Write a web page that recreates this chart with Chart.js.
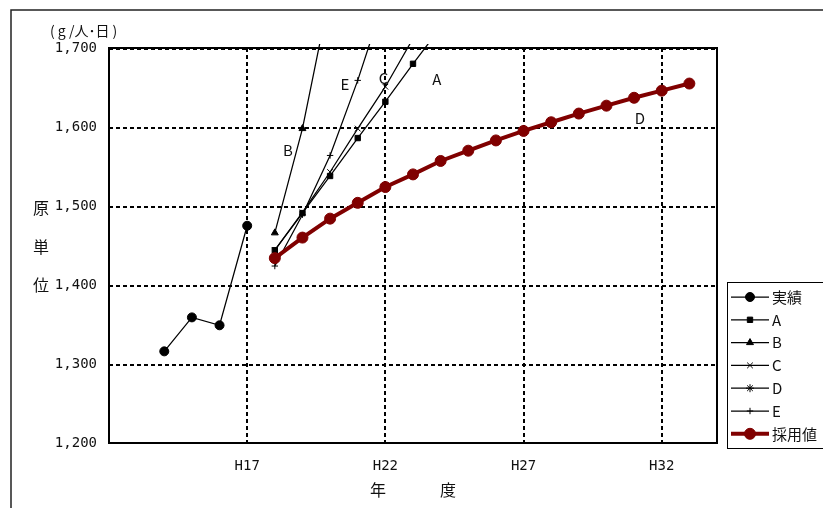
<!DOCTYPE html>
<html><head><meta charset="utf-8">
<script src="https://cdn.jsdelivr.net/npm/chart.js@4/dist/chart.umd.min.js"></script>
<style>
html,body{margin:0;padding:0;background:#fff;overflow:hidden;}
canvas{display:block;}
</style></head><body>
<canvas id="c" width="823" height="508"></canvas>
<script>
// ---------------- data ----------------
const categories = ['H12','H13','H14','H15','H16','H17','H18','H19','H20','H21','H22','H23',
  'H24','H25','H26','H27','H28','H29','H30','H31','H32','H33','H34'];
const xTickLabels = ['H17','H22','H27','H32'];
const yTickValues = [1200,1300,1400,1500,1600,1700];

const jissekiStart = 'H14';
const jisseki = [1316,1359,1349,1475];
const forecastStart = 'H18';
const seriesA = [1444,1491,1538,1586,1632,1680,1726];
const seriesB = [1466,1598,1770];
const seriesC = [1444,1492,1543,1598,1651,1712];
const seriesD = [1434,1460,1484,1504,1524,1540,1557,1570,1583,1595,1606,1617,1627,1637,1646,1655];
const seriesE = [1424,1489,1564,1659,1766];
const saiyou  = [1434,1460,1484,1504,1524,1540,1557,1570,1583,1595,1606,1617,1627,1637,1646,1655];

const curveLabels      = ['B','E','C','A','D'];
const curveLabelCat    = ['H18','H20','H21','H23','H31'];
const curveLabelOffset = [0.47,0.54,0.93,0.86,0.21];
const curveLabelValue  = [1570,1654,1662,1660,1611];

// ---------------- helpers ----------------
const FONT_JP = '"Noto Sans CJK JP", "Noto Sans", sans-serif';
const FONT_NUM = '"DejaVu Sans Mono", "Liberation Mono", monospace';
function place(start, values){
  const arr = categories.map(()=>null);
  const s = categories.indexOf(start);
  values.forEach((v,i)=>{ arr[s+i] = v; });
  return arr;
}
const CLIP = {left:6, top:4, right:6, bottom:6};
function blackSeries(label, data, style, radius, bw){
  return {label, data, borderColor:'#000', backgroundColor:'#000', borderWidth:1.25,
    pointStyle:style, pointRadius:radius, pointHoverRadius:radius, pointBorderWidth:bw||1,
    pointBackgroundColor:'#000', pointBorderColor:'#000', clip:CLIP, tension:0, order:1};
}
const datasets = [
  blackSeries('実績', place(jissekiStart, jisseki), 'circle', 4.5),
  blackSeries('A', place(forecastStart, seriesA), 'rect', 3.8),
  blackSeries('B', place(forecastStart, seriesB), 'triangle', 4),
  blackSeries('C', place(forecastStart, seriesC), 'crossRot', 4),
  blackSeries('D', place(forecastStart, seriesD), 'star', 4),
  blackSeries('E', place(forecastStart, seriesE), 'cross', 3.2),
  {label:'採用値', data:place(forecastStart, saiyou), borderColor:'#800000', backgroundColor:'#800000',
    borderWidth:4, pointStyle:'circle', pointRadius:5.5, pointHoverRadius:5.5, pointBorderWidth:1,
    pointBackgroundColor:'#800000', pointBorderColor:'#800000', clip:CLIP, tension:0, order:-1}
];

// ---------------- plugins ----------------
const framePlugin = {
  id:'frame',
  beforeDraw(chart){
    const ctx = chart.ctx;
    ctx.save();
    ctx.fillStyle = '#fff';
    ctx.fillRect(0,0,chart.width,chart.height);
    ctx.strokeStyle = '#222'; ctx.lineWidth = 1.5;
    ctx.strokeRect(11, 10, 1000, 1000);
    ctx.restore();
  },
  beforeDatasetsDraw(chart){
    const {ctx, chartArea:a, scales:{x,y}} = chart;
    ctx.save();
    ctx.strokeStyle = '#000'; ctx.lineWidth = 2; ctx.setLineDash([4,3]);
    yTickValues.forEach(v=>{
      if (v === y.min) return;
      const py = Math.round(y.getPixelForValue(v)) + 1;
      ctx.beginPath(); ctx.moveTo(a.left, py); ctx.lineTo(a.right, py); ctx.stroke();
    });
    xTickLabels.forEach(l=>{
      const px = Math.round(x.getPixelForValue(categories.indexOf(l)));
      ctx.beginPath(); ctx.moveTo(px, a.top); ctx.lineTo(px, a.bottom); ctx.stroke();
    });
    ctx.setLineDash([]);
    ctx.lineWidth = 2; ctx.strokeStyle = '#000';
    ctx.strokeRect(a.left, a.top, a.right - a.left, a.bottom - a.top);
    ctx.restore();
  },
  afterDraw(chart){
    const {ctx, chartArea:a, scales:{x,y}} = chart;
    ctx.save();
    ctx.fillStyle = '#111';
    ctx.textBaseline = 'middle';
    // unit
    ctx.font = '14px ' + FONT_JP; ctx.textAlign = 'left';
    ctx.fillText('( g /人･日 )', 50, 31);
    // y title
    ctx.font = '16px ' + FONT_JP; ctx.textAlign = 'center';
    const y1 = y.getPixelForValue(1500), y2 = y.getPixelForValue(1400);
    ctx.fillText('原', 41, y1 + 2);
    ctx.fillText('単', 41, (y1 + y2)/2 + 1);
    ctx.fillText('位', 41, y2);
    // x title
    const cx = (a.left + a.right)/2;
    ctx.fillText('年', cx - 35, 490);
    ctx.fillText('度', cx + 35, 490);
    // curve labels
    ctx.font = '15px ' + FONT_JP;
    curveLabels.forEach((t,i)=>{
      const px = x.getPixelForValue(categories.indexOf(curveLabelCat[i]) + curveLabelOffset[i]);
      const py = y.getPixelForValue(curveLabelValue[i]);
      ctx.fillText(t, px, py);
    });
    // legend
    ctx.strokeStyle = '#000'; ctx.lineWidth = 1;
    ctx.strokeRect(727.5, 282.5, 200, 166);
    chart.data.datasets.forEach((ds,i)=>{
      const ly = 297 + i*22.8;
      ctx.save();
      ctx.strokeStyle = ds.borderColor; ctx.lineWidth = ds.borderWidth;
      ctx.beginPath(); ctx.moveTo(731, ly); ctx.lineTo(769, ly); ctx.stroke();
      ctx.fillStyle = ds.pointBackgroundColor; ctx.strokeStyle = ds.pointBorderColor;
      ctx.lineWidth = ds.pointBorderWidth;
      Chart.helpers.drawPoint(ctx, {pointStyle:ds.pointStyle, radius:ds.pointRadius, rotation:0, borderWidth:ds.pointBorderWidth}, 750, ly);
      ctx.restore();
      ctx.fillStyle = '#111'; ctx.textAlign = 'left'; ctx.font = '15px ' + FONT_JP;
      ctx.fillText(ds.label, 772, ly);
    });
    ctx.restore();
  }
};

new Chart(document.getElementById('c'), {
  type:'line',
  data:{labels:categories, datasets},
  options:{
    responsive:false, animation:false,
    layout:{padding:{left:0, top:48, right:106, bottom:0}},
    plugins:{legend:{display:false}, tooltip:{enabled:false}},
    scales:{
      x:{type:'category', offset:false, grid:{display:false, drawTicks:false}, border:{display:false},
        ticks:{autoSkip:false, maxRotation:0, minRotation:0, padding:15, color:'#111',
          font:{family:FONT_NUM, size:14},
          callback(v,i){ const l = categories[i]; return xTickLabels.includes(l) ? l : ''; }},
        afterFit(s){ s.height = 65; }},
      y:{min:yTickValues[0], max:yTickValues[yTickValues.length-1], grid:{display:false, drawTicks:false}, border:{display:false},
        afterBuildTicks(s){ s.ticks = yTickValues.map(v=>({value:v})); },
        ticks:{padding:12, color:'#111', font:{family:FONT_NUM, size:14},
          callback:v=>v.toLocaleString('en-US')},
        afterFit(s){ s.width = 109; }}
    }
  },
  plugins:[framePlugin]
});
</script>
</body></html>
